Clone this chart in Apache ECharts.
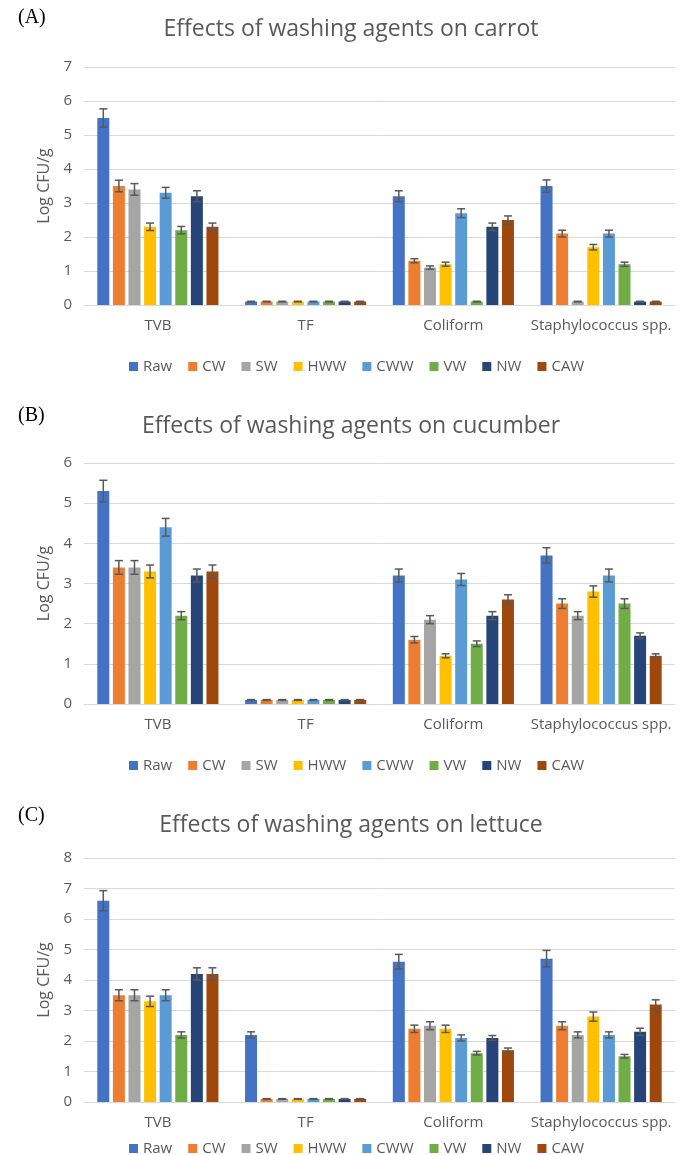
<!DOCTYPE html>
<html><head><meta charset="utf-8">
<script src="https://cdn.jsdelivr.net/npm/echarts@6/dist/echarts.min.js"></script>
<style>html,body{margin:0;padding:0;background:#fff}#c{width:684px;height:1155px}</style>
</head><body><div id="c"></div>
<script>
const categories = ['TVB','TF','Coliform','Staphylococcus spp.'];
const seriesNames = ['Raw','CW','SW','HWW','CWW','VW','NW','CAW'];
const colors = ['#4472C4','#ED7D31','#A5A5A5','#FFC000','#5B9BD5','#70AD47','#264478','#9E480E'];
const titles = ['Effects of washing agents on carrot','Effects of washing agents on cucumber','Effects of washing agents on lettuce'];
const panelLabels = ['(A)','(B)','(C)'];
const yMax = [7, 6, 8];

// rows = series (Raw..CAW), columns = categories (TVB, TF, Coliform, Staph)
const carrotValues = [
  [5.5,0.1,3.2,3.5],[3.5,0.1,1.3,2.1],[3.4,0.1,1.1,0.1],[2.3,0.1,1.2,1.7],
  [3.3,0.1,2.7,2.1],[2.2,0.1,0.1,1.2],[3.2,0.1,2.3,0.1],[2.3,0.1,2.5,0.1]];
const carrotErrors = [
  [0.27,0.01,0.16,0.18],[0.17,0.01,0.06,0.1],[0.17,0.01,0.05,0.01],[0.11,0.01,0.06,0.08],
  [0.16,0.01,0.13,0.1],[0.11,0.01,0.01,0.06],[0.16,0.01,0.11,0.01],[0.11,0.01,0.12,0.01]];
const cucumberValues = [
  [5.3,0.1,3.2,3.7],[3.4,0.1,1.6,2.5],[3.4,0.1,2.1,2.2],[3.3,0.1,1.2,2.8],
  [4.4,0.1,3.1,3.2],[2.2,0.1,1.5,2.5],[3.2,0.1,2.2,1.7],[3.3,0.1,2.6,1.2]];
const cucumberErrors = [
  [0.27,0.01,0.16,0.19],[0.17,0.01,0.08,0.12],[0.17,0.01,0.1,0.1],[0.16,0.01,0.05,0.14],
  [0.22,0.01,0.15,0.16],[0.1,0.01,0.07,0.12],[0.16,0.01,0.1,0.07],[0.16,0.01,0.12,0.05]];
const lettuceValues = [
  [6.6,2.2,4.6,4.7],[3.5,0.1,2.4,2.5],[3.5,0.1,2.5,2.2],[3.3,0.1,2.4,2.8],
  [3.5,0.1,2.1,2.2],[2.2,0.1,1.6,1.5],[4.2,0.1,2.1,2.3],[4.2,0.1,1.7,3.2]];
const lettuceErrors = [
  [0.33,0.1,0.24,0.27],[0.18,0.01,0.12,0.13],[0.18,0.01,0.13,0.1],[0.17,0.01,0.12,0.15],
  [0.18,0.01,0.1,0.1],[0.1,0.01,0.06,0.06],[0.2,0.01,0.08,0.12],[0.2,0.01,0.07,0.15]];

const allValues = [carrotValues, cucumberValues, lettuceValues];
const allErrors = [carrotErrors, cucumberErrors, lettuceErrors];

const layout = [
  {top:67, height:238, titleY:29, labelTop:8, legendTop:354},
  {top:463, height:241, titleY:426, labelTop:406, legendTop:753},
  {top:858, height:244, titleY:825, labelTop:806, legendTop:1136}
];
const BAR_CAT_GAP = 0.18, BAR_GAP = 0.3, N = seriesNames.length;
const FONT = '"Open Sans", Lato, sans-serif';
const TXT = '#595959';

const option = {
  animation:false,
  grid:[], xAxis:[], yAxis:[], legend:[], series:[], graphic:[]
};

layout.forEach((L, g) => {
  option.graphic.push({type:'text', x:351, y:L.titleY,
    style:{text:titles[g], font:'23px "Open Sans", Lato, sans-serif', fill:TXT,
      textAlign:'center', textVerticalAlign:'middle'}});
  option.graphic.push({type:'text', left:18, top:L.labelTop,
    style:{text:panelLabels[g], font:'20px "Liberation Serif", "DejaVu Serif", serif', fill:'#000'}});
  option.grid.push({left:84, right:9, top:L.top, height:L.height});
  option.xAxis.push({type:'category', gridIndex:g, data:categories,
    axisLine:{lineStyle:{color:'#D9D9D9'}}, axisTick:{show:false},
    axisLabel:{color:TXT, fontFamily:FONT, fontSize:15, margin:13, interval:0}});
  option.yAxis.push({type:'value', gridIndex:g, min:0, max:yMax[g], interval:1,
    name:'Log CFU/g', nameLocation:'middle', nameGap:32, nameRotate:90,
    nameTextStyle:{color:TXT, fontFamily:FONT, fontSize:16},
    axisLabel:{color:TXT, fontFamily:FONT, fontSize:15, margin:12},
    splitLine:{lineStyle:{color:'#D9D9D9', width:1}}, axisLine:{show:false}, axisTick:{show:false}});
  option.legend.push({data:seriesNames, top:L.legendTop, left:124,
    itemWidth:9, itemHeight:9, itemGap:16, icon:'rect',
    textStyle:{color:TXT, fontFamily:FONT, fontSize:15}, selectedMode:false});
  seriesNames.forEach((name, s) => {
    option.series.push({type:'bar', name, xAxisIndex:g, yAxisIndex:g,
      data: allValues[g][s], itemStyle:{color:colors[s]},
      barCategoryGap:(BAR_CAT_GAP*100)+'%', barGap:(BAR_GAP*100)+'%'});
  });
  const errData = [];
  seriesNames.forEach((name, s) => categories.forEach((c, ci) => {
    errData.push([ci, s, allValues[g][s][ci], allErrors[g][s][ci]]);
  }));
  option.series.push({type:'custom', xAxisIndex:g, yAxisIndex:g, z:10, silent:true,
    encode:{x:0, y:2}, data:errData,
    renderItem:(params, api) => {
      const ci = api.value(0), s = api.value(1), v = api.value(2), e = api.value(3);
      const band = api.size([1,0])[0];
      const avail = band*(1-BAR_CAT_GAP);
      const bw = avail/(N + (N-1)*BAR_GAP);
      const start = -avail/2;
      const off = start + s*bw*(1+BAR_GAP) + bw/2;
      const top = api.coord([ci, v+e]), bot = api.coord([ci, v-e]);
      const x = top[0] + off;
      const cap = 4;
      const st = {stroke:'#595959', lineWidth:1.5};
      return {type:'group', children:[
        {type:'line', shape:{x1:x, y1:top[1], x2:x, y2:bot[1]}, style:st},
        {type:'line', shape:{x1:x-cap, y1:top[1], x2:x+cap, y2:top[1]}, style:st},
        {type:'line', shape:{x1:x-cap, y1:bot[1], x2:x+cap, y2:bot[1]}, style:st}
      ]};
    }});
});

echarts.init(document.getElementById('c')).setOption(option);
</script></body></html>
